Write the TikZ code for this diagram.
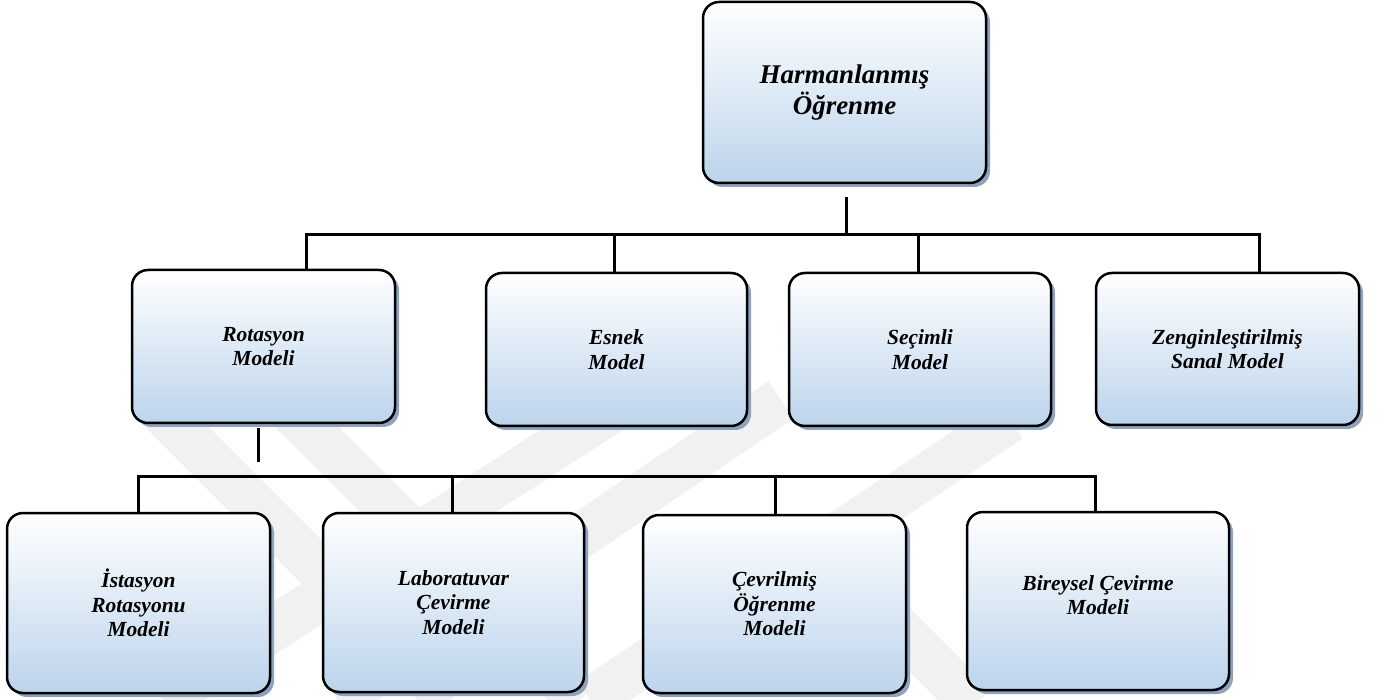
\documentclass[tikz,border=0pt]{standalone}
\usepackage{fontspec}
\setmainfont{Liberation Serif}
\usetikzlibrary{shadows,calc}
\definecolor{boxblue}{RGB}{188,212,236}
\definecolor{shadowcol}{RGB}{139,163,192}
\definecolor{wmgray}{RGB}{241,241,241}
\tikzset{
  box/.style={draw=black, line width=2.5pt, rounded corners=16pt,
    top color=white, bottom color=boxblue, inner sep=0pt, align=center,
    font=\fontsize{21.5}{24.5}\selectfont\bfseries\itshape,
    drop shadow={shadow xshift=4pt, shadow yshift=-4pt, fill=shadowcol, opacity=1}},
  bigbox/.style={box, font=\fontsize{27}{31}\selectfont\bfseries\itshape},
  conn/.style={draw=black, line width=3pt, line join=miter},
  wmband/.style={draw=wmgray, line width=45pt, line cap=butt}
}
\begin{document}
\begin{tikzpicture}[x=1pt,y=-1pt]
\useasboundingbox (0,0) rectangle (1379,700);
% faint watermark
\begin{scope}
\clip (0,0) rectangle (1379,700);
\draw[wmband] (150,400) -- (450,700);
\draw[wmband] (280,400) -- (580,700);
\draw[wmband] (628,400) -- (163,700);
\draw[wmband] (781,400) -- (338,700);
\draw[wmband] (1010,420) -- (590,700);
\draw[wmband] (830,560) -- (975,705);
\end{scope}
% boxes
\node[bigbox, minimum width=283pt, minimum height=181pt] (hb) at (844.5,92.5) {Harmanlanmış\\Öğrenme};
\node[box, minimum width=263pt, minimum height=153pt] (rot) at (263.5,346.5) {Rotasyon\\Modeli};
\node[box, minimum width=261pt, minimum height=153pt] (esn) at (616.5,349.5) {Esnek\\Model};
\node[box, minimum width=262pt, minimum height=153pt] (sec) at (920,349.5) {Seçimli\\Model};
\node[box, minimum width=263pt, minimum height=152pt] (zen) at (1227.5,349) {Zenginleştirilmiş\\Sanal Model};
\node[box, minimum width=263pt, minimum height=180pt] (ist) at (138.5,603) {İstasyon\\Rotasyonu\\Modeli};
\node[box, minimum width=261pt, minimum height=179pt] (lab) at (453.5,602.5) {Laboratuvar\\Çevirme\\Modeli};
\node[box, minimum width=263pt, minimum height=178pt] (cev) at (774.5,604) {Çevrilmiş\\Öğrenme\\Modeli};
\node[box, minimum width=262pt, minimum height=178pt, text depth=12pt] (bir) at (1098,601) {Bireysel Çevirme\\Modeli};
% first level connectors
\coordinate (hbtap) at (846,197);
\coordinate (bus1) at (846,235);
\coordinate (b1a) at (306,235);
\coordinate (b1b) at (614,235);
\coordinate (b1c) at (918,235);
\coordinate (b1d) at (1259,235);
\draw[conn] (hbtap) -- (bus1);
\draw[conn] (b1a |- rot.north) -- (b1a) -- (b1d) -- (b1d |- zen.north);
\draw[conn] (b1b) -- (b1b |- esn.north);
\draw[conn] (b1c) -- (b1c |- sec.north);
% second level connectors
\coordinate (rottap) at (258,428);
\coordinate (rotend) at (258,462);
\coordinate (b2a) at (138,476);
\coordinate (b2b) at (452,476);
\coordinate (b2c) at (775,476);
\coordinate (b2d) at (1095,476);
\draw[conn] (rottap) -- (rotend);
\draw[conn] (b2a |- ist.north) -- (b2a) -- (b2d) -- (b2d |- bir.north);
\draw[conn] (b2b) -- (b2b |- lab.north);
\draw[conn] (b2c) -- (b2c |- cev.north);
\end{tikzpicture}
\end{document}
